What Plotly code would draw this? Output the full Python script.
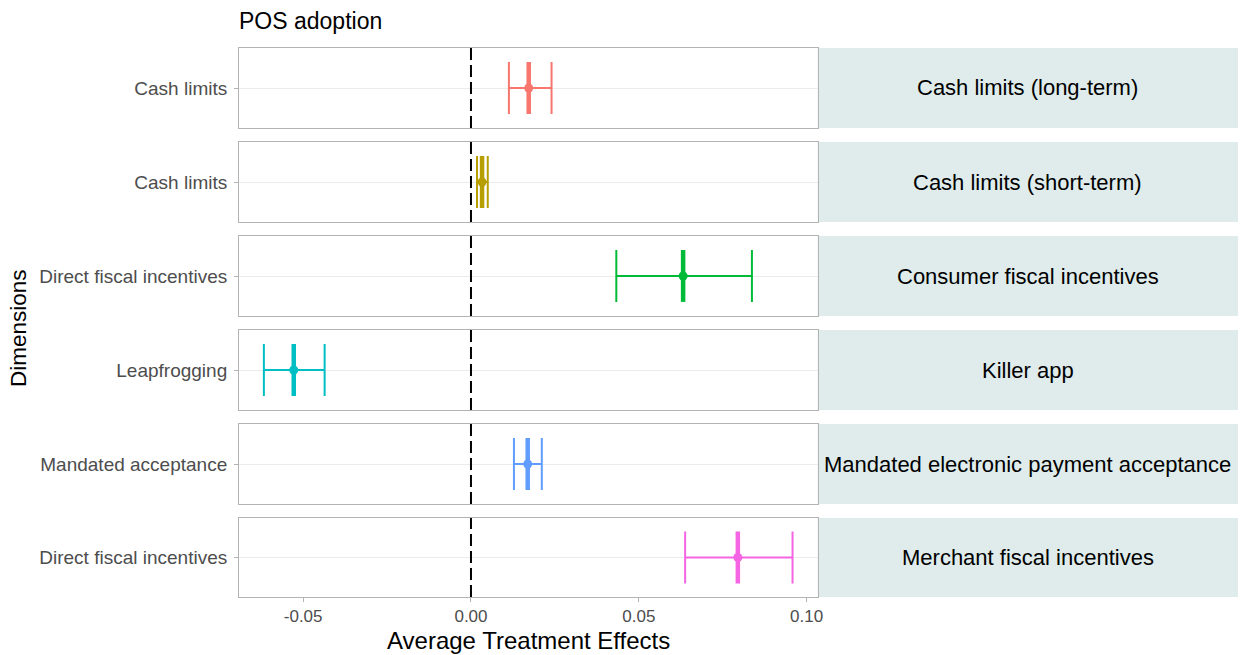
import plotly.graph_objects as go
from plotly.subplots import make_subplots

strip_labels = ["Cash limits (long-term)", "Cash limits (short-term)", "Consumer fiscal incentives",
                "Killer app", "Mandated electronic payment acceptance", "Merchant fiscal incentives"]
dimensions = ["Cash limits", "Cash limits", "Direct fiscal incentives", "Leapfrogging",
              "Mandated acceptance", "Direct fiscal incentives"]
estimates = [0.0172, 0.0033, 0.0632, -0.0528, 0.0169, 0.0795]
ci_low = [0.0113, 0.0018, 0.0433, -0.0617, 0.0128, 0.0638]
ci_high = [0.0240, 0.0050, 0.0837, -0.0436, 0.0211, 0.0958]
colors = ["#F8766D", "#B79F00", "#00BA38", "#00BFC4", "#619CFF", "#F564E3"]
x_ticks = [-0.05, 0.0, 0.05, 0.10]
x_ticktext = ["-0.05", "0.00", "0.05", "0.10"]

W, H = 1249, 655
panel_px = [(48, 128), (142, 222), (236, 316), (330, 410), (424, 504), (518, 597)]
x_left, x_right, strip_right = 240, 821, 1243

fig = make_subplots(rows=6, cols=1, shared_xaxes=True)
font = "Liberation Sans, Arial, sans-serif"

for i in range(6):
    r = i + 1
    fig.add_trace(go.Scatter(
        x=[estimates[i]], y=[0], mode="markers",
        marker=dict(symbol="line-ns", size=37, line=dict(color=colors[i], width=4.5), color=colors[i]),
        error_x=dict(type="data", symmetric=False,
                     array=[ci_high[i] - estimates[i]], arrayminus=[estimates[i] - ci_low[i]],
                     color=colors[i], thickness=2, width=26),
        showlegend=False, hoverinfo="skip"), row=r, col=1)
    fig.add_trace(go.Scatter(
        x=[estimates[i]], y=[0], mode="markers",
        marker=dict(symbol="circle", size=9, color=colors[i]),
        showlegend=False), row=r, col=1)
    y0, y1 = panel_px[i]
    dom = [1 - y1 / H, 1 - y0 / H]
    yname = "yaxis" if r == 1 else f"yaxis{r}"
    xname = "xaxis" if r == 1 else f"xaxis{r}"
    fig.layout[yname].update(
        domain=dom, range=[-1, 1], tickvals=[0], ticktext=[dimensions[i]],
        showgrid=True, gridcolor="#EBEBEB", gridwidth=1, zeroline=False,
        showline=True, mirror=True, linecolor="#B3B3B3", linewidth=1,
        ticks="outside", ticklen=4, tickcolor="#B3B3B3", ticklabelstandoff=3,
        tickfont=dict(family=font, size=19, color="#4D4D4D"), fixedrange=True)
    fig.layout[xname].update(
        domain=[x_left / W, x_right / W], range=[-0.0691, 0.1033],
        tickvals=x_ticks, ticktext=x_ticktext, showgrid=False, zeroline=False,
        showline=True, mirror=True, linecolor="#B3B3B3", linewidth=1,
        ticks="outside" if r == 6 else "", ticklen=4, tickcolor="#B3B3B3",
        showticklabels=(r == 6),
        tickfont=dict(family=font, size=17, color="#4D4D4D"))
    xref = "x" if r == 1 else f"x{r}"
    yref = "y" if r == 1 else f"y{r}"
    fig.add_shape(type="line", xref=xref, yref=f"{yref} domain", x0=0, x1=0, y0=0, y1=1,
                  line=dict(color="black", width=2, dash="12px,5px"), layer="above")
    fig.add_shape(type="rect", xref="paper", yref="paper",
                  x0=x_right / W, x1=strip_right / W, y0=dom[0], y1=dom[1],
                  fillcolor="#DFECEB", line=dict(width=0), layer="below")
    fig.add_annotation(xref="paper", yref="paper", x=(x_right + strip_right) / 2 / W,
                       y=(dom[0] + dom[1]) / 2, text=strip_labels[i], showarrow=False,
                       xanchor="center", yanchor="middle",
                       font=dict(family=font, size=22, color="black"))

fig.add_annotation(xref="paper", yref="paper", x=238 / W, y=1 - 21 / H, text="POS adoption",
                   showarrow=False, xanchor="left", yanchor="middle",
                   font=dict(family=font, size=23, color="black"))
fig.add_annotation(xref="paper", yref="paper", x=(x_left + x_right) / 2 / W, y=1 - 640 / H,
                   text="Average Treatment Effects", showarrow=False,
                   xanchor="center", yanchor="middle",
                   font=dict(family=font, size=24, color="black"))
fig.add_annotation(xref="paper", yref="paper", x=18 / W, y=1 - 328 / H, text="Dimensions",
                   showarrow=False, textangle=-90, xanchor="center", yanchor="middle",
                   font=dict(family=font, size=22.5, color="black"))

fig.update_layout(width=W, height=H, margin=dict(l=0, r=0, t=0, b=0),
                  plot_bgcolor="white", paper_bgcolor="white", showlegend=False)
fig.write_html("out.html", config={"displayModeBar": False},
               post_script="document.body.style.margin='0px';")
